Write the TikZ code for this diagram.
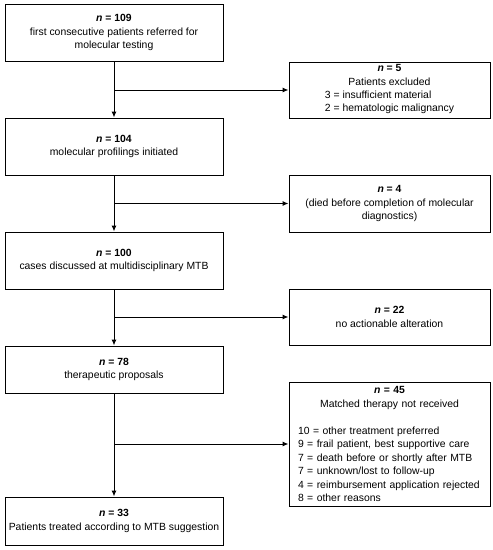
\documentclass[tikz,border=0pt]{standalone}
\usepackage{fontspec}
\setmainfont{Liberation Sans}
\usetikzlibrary{arrows.meta}
\begin{document}
\begin{tikzpicture}[x=1pt,y=-1pt,
  box/.style={draw, line width=1pt, inner sep=0pt, align=center,
    font=\fontsize{10.4}{13.8}\selectfont},
  lbox/.style={box, minimum width=218pt},
  rbox/.style={box, minimum width=201pt},
  flow/.style={line width=1pt, -{Latex[length=6pt,width=5pt]}}]
\useasboundingbox (0,0) rectangle (493,550);
\newcommand{\nn}[1]{\textbf{\textit{n} = #1}}
% left boxes
\node[lbox, minimum height=57pt] (b1) at (114,32.5) {\nn{109}\\first consecutive patients referred for\\molecular testing};
\node[lbox, minimum height=57pt] (b2) at (114,146.5) {\nn{104}\\molecular profilings initiated};
\node[lbox, minimum height=57pt] (b3) at (114,260.5) {\nn{100}\\cases discussed at multidisciplinary MTB};
\node[lbox, minimum height=47pt] (b4) at (114,369.5) {\nn{78}\\therapeutic proposals};
\node[lbox, minimum height=48pt] (b5) at (114,521) {\nn{33}\\Patients treated according to MTB suggestion};
% right boxes
\node[rbox, minimum height=56pt, font=\fontsize{10.4}{13.2}\selectfont] (r1) at (389.5,90) {\nn{5}\\Patients excluded\\%
\begin{tabular}[t]{@{}l@{}}3 = insufficient material\\2 = hematologic malignancy\end{tabular}};
\node[rbox, minimum height=57pt] (r2) at (389.5,203.5) {\nn{4}\\(died before completion of molecular\\diagnostics)};
\node[rbox, minimum height=56pt] (r3) at (389.5,317) {\nn{22}\\no actionable alteration};
\node[rbox, minimum height=124pt, text width=183pt, align=left, font=\fontsize{10.4}{13.5}\selectfont] (r4) at (389.5,444) {%
\makebox[183pt][c]{\nn{45}}\\
\makebox[183pt][c]{Matched therapy not received}\\[13.5pt]
10 = other treatment preferred\\
9 = frail patient, best supportive care\\
7 = death before or shortly after MTB\\
7 = unknown/lost to follow-up\\
4 = reimbursement application rejected\\
8 = other reasons};
% connectors
\draw[flow] (b1) -- (b2);
\draw[flow] (b2) -- (b3);
\draw[flow] (b3) -- (b4);
\draw[flow] (b4) -- (b5);
\coordinate (j1) at (b1.south |- r1.west);
\coordinate (j2) at (b2.south |- r2.west);
\coordinate (j3) at (b3.south |- r3.west);
\coordinate (j4) at (b4.south |- r4.west);
\draw[flow] (j1) -- (r1.west);
\draw[flow] (j2) -- (r2.west);
\draw[flow] (j3) -- (r3.west);
\draw[flow] (j4) -- (r4.west);
\end{tikzpicture}
\end{document}
